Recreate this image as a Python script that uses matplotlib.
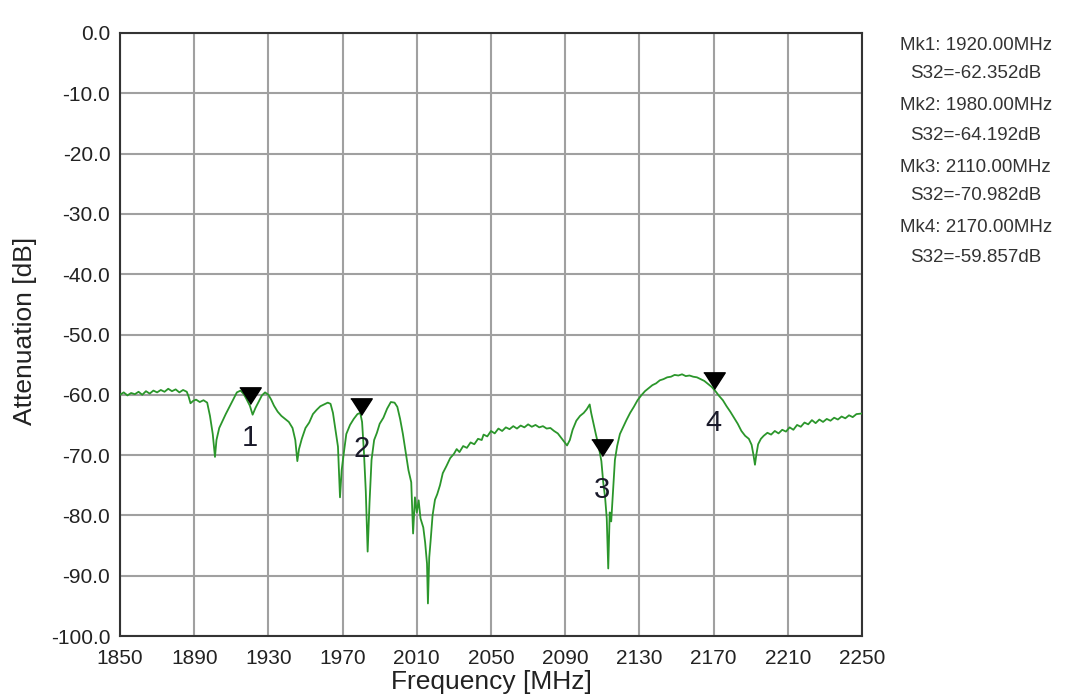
import matplotlib
matplotlib.use("Agg")
import matplotlib.pyplot as plt

plt.rcParams['font.family'] = ['Liberation Sans', 'DejaVu Sans']
plt.rcParams['axes.unicode_minus'] = False

freq_mhz = [1850.0, 1852, 1854, 1856, 1858, 1860, 1862, 1864, 1866, 1868, 1870, 1872, 1874, 1876, 1878, 1880,
            1882, 1884, 1886, 1887, 1888, 1889.5, 1891, 1893, 1895, 1897, 1898.5, 1900, 1901.2, 1902, 1903.5,
            1905, 1907, 1909, 1911, 1913, 1915, 1916.5, 1918, 1920, 1921.5, 1923, 1924.5, 1926.5, 1928.2,
            1930, 1931.5, 1933, 1935, 1937, 1939, 1941, 1943, 1944.5, 1945.6, 1946.5, 1948, 1950, 1952, 1954,
            1956, 1958, 1960, 1962, 1963.5, 1964.8, 1966, 1967.5, 1968.6, 1969.5, 1970.5, 1972, 1974, 1976,
            1978, 1979.5, 1980.5, 1981.5, 1982.5, 1983.5, 1984.5, 1985.6, 1987, 1988.5, 1990, 1992, 1994,
            1996, 1998, 1999.5, 2001, 2002.5, 2004, 2005.5, 2007, 2008, 2009, 2010, 2011, 2012, 2013.5,
            2014.5, 2015.5, 2016, 2016.7, 2017.5, 2018.5, 2019.8, 2021, 2022.5, 2024, 2026, 2028, 2030,
            2031.5, 2033, 2035, 2037, 2039, 2041, 2043, 2045, 2046, 2048, 2050, 2052, 2054, 2056, 2058,
            2060, 2062, 2064, 2066, 2068, 2070, 2072, 2074, 2076, 2078, 2080, 2082, 2084, 2086, 2088, 2090,
            2091, 2092.5, 2094, 2096, 2098, 2100, 2101.6, 2103.2, 2104, 2105.2, 2106.5, 2108, 2109.5,
            2110.5, 2111.5, 2112.4, 2113.2, 2114, 2114.8, 2115.6, 2116.4, 2116.8, 2118, 2119.5, 2121, 2123,
            2125, 2127, 2129, 2131, 2133, 2135, 2137, 2139, 2141, 2143, 2145, 2147, 2149, 2151, 2153, 2155,
            2157, 2159, 2161, 2163, 2165, 2167, 2169, 2171, 2173, 2175, 2177, 2179, 2181, 2183, 2185, 2187,
            2189, 2190.5, 2191.5, 2192.3, 2193, 2194, 2195.5, 2197, 2199, 2201, 2203, 2205, 2207, 2209,
            2211, 2213, 2215, 2217, 2219, 2221, 2223, 2225, 2227, 2229, 2231, 2233, 2235, 2237, 2239, 2241,
            2243, 2245, 2247, 2250]
s32_db = [-60.0, -59.6, -60.1, -59.7, -59.9, -59.5, -60.0, -59.4, -59.8, -59.3, -59.6, -59.2, -59.5, -59.0,
          -59.4, -59.1, -59.6, -59.2, -59.5, -60.3, -61.4, -61.0, -60.8, -61.2, -60.9, -61.3, -63.5, -66.5,
          -70.3, -67.5, -65.5, -64.5, -63.2, -62.0, -60.8, -59.6, -59.3, -59.8, -60.6, -61.8, -63.3, -62.2,
          -61.3, -60.1, -59.6, -60.0, -60.8, -61.8, -62.8, -63.5, -64.0, -64.5, -65.5, -67.5, -71.0, -69.0,
          -67.3, -65.5, -64.6, -63.2, -62.5, -61.9, -61.6, -61.3, -61.5, -63.0, -65.5, -68.6, -77.0, -72.5,
          -70.0, -66.5, -65.0, -64.0, -63.2, -63.0, -64.5, -69.5, -76.0, -86.0, -78.0, -70.8, -67.5, -66.3,
          -64.8, -63.8, -62.3, -61.2, -61.3, -62.0, -64.0, -66.5, -69.5, -72.5, -74.5, -83.0, -77.0, -79.5,
          -77.5, -80.5, -82.0, -84.5, -88.0, -94.6, -87.0, -84.0, -80.0, -77.4, -76.5, -75.0, -73.0, -71.8,
          -70.5, -69.8, -69.0, -69.5, -68.5, -68.8, -67.9, -68.2, -67.3, -67.5, -66.6, -66.9, -66.0, -66.4,
          -65.6, -66.0, -65.4, -65.7, -65.2, -65.6, -65.1, -65.4, -64.9, -65.3, -65.0, -65.4, -65.2, -65.6,
          -65.5, -66.0, -66.4, -67.2, -68.0, -68.4, -67.5, -65.8, -64.3, -63.5, -63.0, -62.4, -61.6, -63.0,
          -64.7, -66.5, -68.5, -71.0, -74.5, -77.0, -80.5, -88.8, -79.5, -81.0, -76.9, -73.0, -70.8, -68.5,
          -66.5, -65.5, -64.2, -63.0, -62.0, -60.9, -60.1, -59.4, -58.9, -58.4, -58.1, -57.6, -57.4, -57.1,
          -57.0, -56.7, -56.8, -56.6, -56.9, -56.8, -57.0, -57.1, -57.4, -57.7, -58.2, -58.7, -59.4, -60.2,
          -60.9, -61.9, -62.8, -63.8, -64.8, -66.0, -66.8, -67.3, -68.3, -70.0, -71.6, -70.0, -68.2, -67.3,
          -66.8, -66.3, -66.6, -66.0, -66.4, -65.8, -66.1, -65.4, -65.8, -65.0, -65.3, -64.6, -64.9, -64.2,
          -64.7, -64.1, -64.5, -64.0, -64.3, -63.8, -64.1, -63.6, -63.9, -63.4, -63.7, -63.2, -63.1]

marker_freq = [1920.0, 1980.0, 2110.0, 2170.0]
marker_db = [-62.352, -64.192, -70.982, -59.857]
marker_ids = ["1", "2", "3", "4"]

x_ticks = [1850, 1890, 1930, 1970, 2010, 2050, 2090, 2130, 2170, 2210, 2250]
y_ticks = [0.0, -10.0, -20.0, -30.0, -40.0, -50.0, -60.0, -70.0, -80.0, -90.0, -100.0]
y_tick_labels = ["%.1f" % v for v in y_ticks]

W, H = 1078, 695
fig = plt.figure(figsize=(W / 100, H / 100), dpi=100)
ax = fig.add_axes([120 / W, 1 - 636 / H, (862 - 120) / W, (636 - 33) / H])

ax.plot(freq_mhz, s32_db, color="#2b962b", lw=1.3, zorder=3)

tri = [(-1, 1.55), (1, 1.55), (0, 0)]
for f, v, lab in zip(marker_freq, marker_db, marker_ids):
    ax.plot([f], [v + 0.9], marker=tri, ms=24, color="black", ls="none", zorder=4)
    ax.annotate(lab, (f, v), xytext=(0, -21), textcoords="offset points",
                ha="center", va="center", fontsize=21, color="#1a1a2a", zorder=5)

ax.set_xlim(1850, 2250)
ax.set_ylim(-100, 0)
ax.set_xticks(x_ticks)
ax.set_xticklabels([str(t) for t in x_ticks])
ax.set_yticks(y_ticks)
ax.set_yticklabels(y_tick_labels)
ax.tick_params(length=0, labelsize=15, colors="#222222")
ax.tick_params(axis="y", pad=7)
ax.tick_params(axis="x", pad=9)
ax.grid(True, color="#a0a0a0", lw=1.5)
ax.set_axisbelow(True)
for sp in ax.spines.values():
    sp.set_color("#333333")
    sp.set_linewidth(1.5)

fig.text(491 / W, 1 - 689 / H, "Frequency [MHz]", ha="center", va="baseline", fontsize=19, color="#222222")
fig.text(25 / W, 1 - 331 / H, "Attenuation [dB]", ha="center", va="center", rotation=90, fontsize=19,
         color="#222222")

for i, (f, v) in enumerate(zip(marker_freq, marker_db)):
    y1 = 45 + i * 61
    fig.text(900 / W, 1 - y1 / H, "Mk%d: %.2fMHz" % (i + 1, f), ha="left", va="center", fontsize=13.5,
             color="#333333")
    fig.text(910 / W, 1 - (y1 + 29) / H, "S32=%.3fdB" % v, ha="left", va="center", fontsize=13.5,
             color="#333333")

fig.savefig("out.png", dpi=100)
